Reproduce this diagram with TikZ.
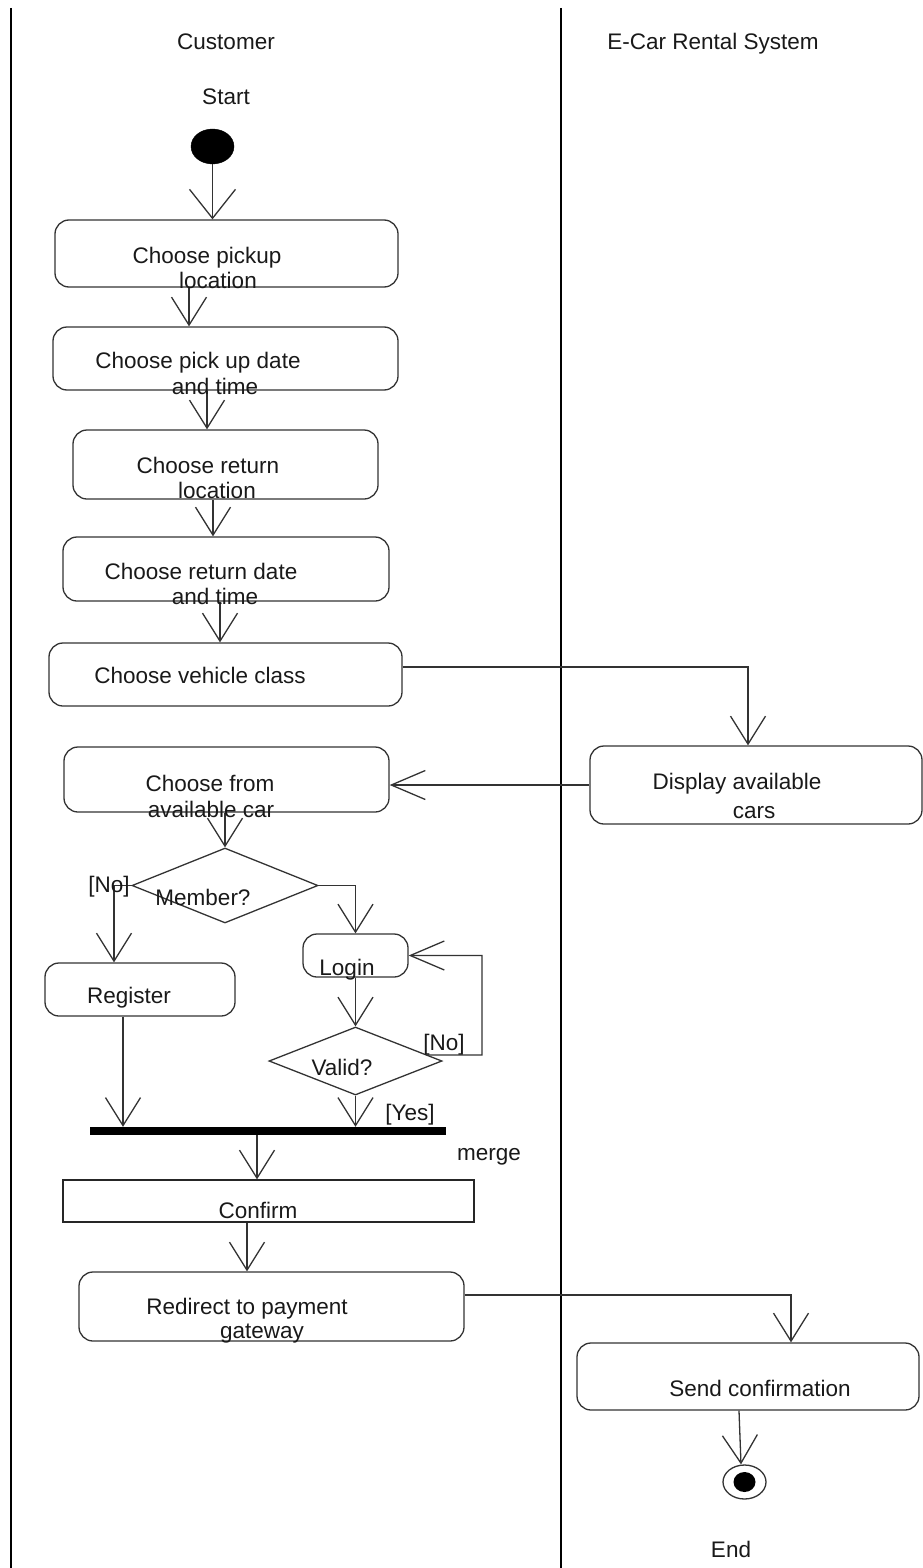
\documentclass[tikz,border=0pt]{standalone}
\usepackage{fontspec}
\setmainfont{Liberation Sans}
\usetikzlibrary{arrows.meta,shapes.geometric,calc}
\begin{document}
\begin{tikzpicture}[x=1pt,y=-1pt,
  txt/.style={anchor=base, inner sep=0pt, font=\fontsize{22.5pt}{27pt}\selectfont, text=black!90},
  act/.style={draw=black!80, line width=1.3pt, rectangle, rounded corners=14pt, inner sep=0pt},
  plainbox/.style={draw=black!85, line width=1.3pt, rectangle, inner sep=0pt},
  decision/.style={draw=black!80, line width=1.3pt, diamond, inner sep=0pt},
  lane/.style={draw=black, line width=1.5pt},
  flow/.style={draw=black!80, line width=1.3pt, -{Straight Barb[length=28pt,width=35pt]}},
  flowwide/.style={draw=black!80, line width=1.3pt, -{Straight Barb[length=29pt,width=46pt]}},
  flowside/.style={draw=black!80, line width=1.3pt, -{Straight Barb[length=34pt,width=29pt]}}
]
\useasboundingbox (0,0) rectangle (923,1568);

% swimlane borders
\draw[lane] (11,8) -- (11,1568);
\draw[lane] (561,8) -- (561,1568);

% lane headings
\node[txt] (hcust) at (226,49.5) {Customer};
\node[txt] (hsys) at (713,49.5) {E-Car Rental System};

% initial node
\node[txt] (tstart) at (226,104.5) {Start};
\node[ellipse, fill=black, draw=black, inner sep=0pt, minimum width=43pt, minimum height=35pt] (start) at (212.5,146.5) {};

% activities in the customer lane
\node[act, minimum width=343pt, minimum height=67pt] (b1) at (226.5,253.5) {};
\node[act, minimum width=345pt, minimum height=63pt] (b2) at (225.5,358.5) {};
\node[act, minimum width=305pt, minimum height=69pt] (b3) at (225.5,464.5) {};
\node[act, minimum width=326pt, minimum height=64pt] (b4) at (226,569) {};
\node[act, minimum width=353pt, minimum height=63pt] (b5) at (225.5,674.5) {};
\node[act, minimum width=325pt, minimum height=65pt] (b6) at (226.5,779.5) {};
\node[decision, minimum width=186pt, minimum height=75pt] (member) at (225,885.5) {};
\node[act, minimum width=190pt, minimum height=53pt] (reg) at (140,989.5) {};
\node[act, minimum width=105pt, minimum height=43pt] (login) at (355.5,955.5) {};
\node[decision, minimum width=173pt, minimum height=68pt] (valid) at (355.5,1061) {};
\node[rectangle, fill=black, inner sep=0pt, minimum width=356pt, minimum height=8pt] (bar) at (268,1131) {};
\node[plainbox, minimum width=411pt, minimum height=42pt] (confirm) at (268.5,1201) {};
\node[act, minimum width=385pt, minimum height=69pt] (redirect) at (271.5,1306.5) {};

% activities in the system lane
\node[act, minimum width=332pt, minimum height=78pt] (disp) at (756,785) {};
\node[act, minimum width=342pt, minimum height=67pt] (send) at (748,1376.5) {};

% final node
\node[ellipse, draw=black!80, line width=1.3pt, fill=white, inner sep=0pt, minimum width=43pt, minimum height=34pt] (endc) at (744.5,1482) {};
\node[ellipse, fill=black, inner sep=0pt, minimum width=22pt, minimum height=20pt] (endd) at (endc.center) {};
\node[txt] (tend) at (731,1557) {End};

% bend points of the routed flows
\coordinate (k1) at (748,667);
\coordinate (k2) at (114,885.5);
\coordinate (k3) at (482,1055);
\coordinate (k4) at (791,1295);

% control flows
\draw[flowwide] (start.south) -- (start.south |- b1.north);
\draw[flow] ([xshift=-37.5pt]b1.south) -- ([xshift=-36.5pt]b2.north);
\draw[flow] ([xshift=-18.5pt]b2.south) -- ([xshift=-18.5pt]b3.north);
\draw[flow] ([xshift=-12.5pt]b3.south) -- ([xshift=-13pt]b4.north);
\draw[flow] ([xshift=-6pt]b4.south) -- ([xshift=-5.5pt]b5.north);
\draw[flow] (b5.east |- k1) -- (k1) -- (k1 |- disp.north);
\draw[flowside] (disp.west) -- (disp.west -| b6.east);
\draw[flow] (member.north |- b6.south) -- (member.north);
\draw[flow] (member.west) -- (k2) -- (k2 |- reg.north);
\draw[flow] (member.east) -| (login.north);
\draw[flow] (login.south) -- (valid.north);
\draw[flowside] ($(valid.north)!0.824!(valid.east)$) -- (k3) |- (login.east);
\draw[flow] (valid.south) -- (valid.south |- bar.north);
\draw[flow] ([xshift=-17pt]reg.south) -- ([xshift=-145pt]bar.north);
\draw[flow] ([xshift=-11pt]bar.south) -- ([xshift=-11.5pt]confirm.north);
\draw[flow] ([xshift=-21.5pt]confirm.south) -- ([xshift=-24.5pt]redirect.north);
\draw[flow] (redirect.east |- k4) -- (k4) -- (k4 |- send.north);
\draw[flow] ([xshift=-9pt]send.south) -- ([xshift=-3.5pt]endc.north);

% activity texts
\node[txt] (t1a) at (207,263) {Choose pickup};
\node[txt] (t1b) at (218,288) {location};
\node[txt] (t2a) at (198,368) {Choose pick up date};
\node[txt] (t2b) at (215,394) {and time};
\node[txt] (t3a) at (208,473) {Choose return};
\node[txt] (t3b) at (217,498) {location};
\node[txt] (t4a) at (201,579) {Choose return date};
\node[txt] (t4b) at (215,604) {and time};
\node[txt] (t5) at (200,683) {Choose vehicle class};
\node[txt] (t6a) at (210,791) {Choose from};
\node[txt] (t6b) at (211,817) {available car};
\node[txt] (tdispa) at (737,789) {Display available};
\node[txt] (tdispb) at (754,818) {cars};
\node[txt] (tmember) at (203,905) {Member?};
\node[txt] (tno1) at (109,892) {[No]};
\node[txt] (treg) at (129,1003) {Register};
\node[txt] (tlogin) at (347,975) {Login};
\node[txt] (tvalid) at (342,1075) {Valid?};
\node[txt] (tno2) at (444,1050) {[No]};
\node[txt] (tyes) at (410,1120) {[Yes]};
\node[txt] (tmerge) at (489,1160) {merge};
\node[txt] (tconfirm) at (258,1218) {Confirm};
\node[txt] (tredira) at (247,1314) {Redirect to payment};
\node[txt] (tredirb) at (262,1338) {gateway};
\node[txt] (tsend) at (760,1396) {Send confirmation};
\end{tikzpicture}
\end{document}
